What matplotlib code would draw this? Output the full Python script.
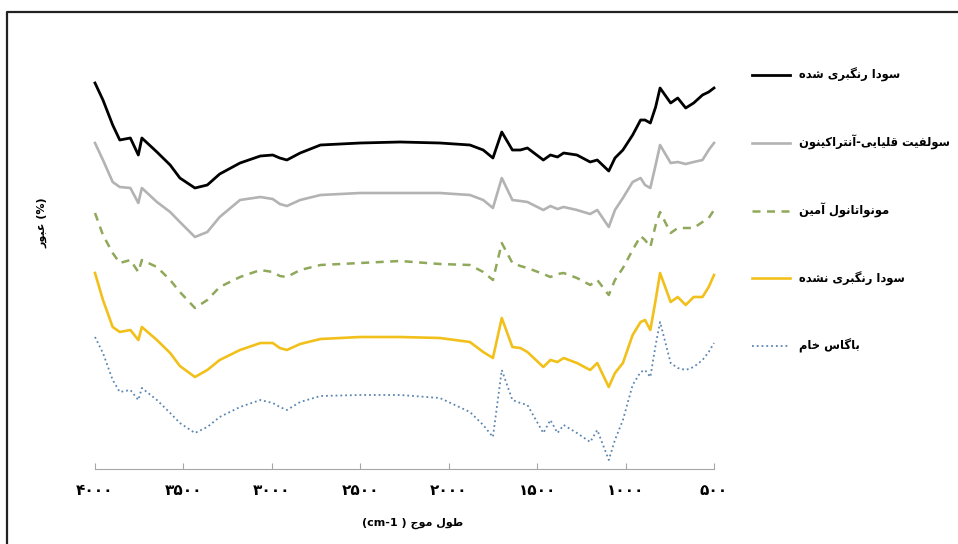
import numpy as np
import matplotlib
matplotlib.use('Agg')
import matplotlib.pyplot as plt
from matplotlib.lines import Line2D

# wavenumber (cm-1) and offset transmittance (a.u.)
wavenumber = [4000, 3955, 3900, 3860, 3800, 3755, 3735, 3650, 3575, 3520,
              3435, 3365, 3295, 3180, 3065, 2995, 2955, 2915, 2840, 2725,
              2500, 2275, 2050, 1880, 1805, 1750, 1700, 1640, 1595, 1555,
              1465, 1425, 1385, 1350, 1275, 1200, 1160, 1095, 1060, 1015,
              960, 915, 890, 860, 830, 805, 745, 705, 660, 615,
              565, 530, 500]

soda_bleached = [417, 400, 375, 360, 362, 345, 362, 348, 335, 322,
                 312, 315, 326, 337, 344, 345, 342, 340, 347, 355,
                 357, 358, 357, 355, 350, 342, 368, 350, 350, 352,
                 340, 345, 343, 347, 345, 338, 340, 329, 342, 350,
                 365, 380, 380, 377, 393, 412, 397, 402, 392, 397,
                 405, 408, 412]

sulfite_aq = [357, 340, 318, 313, 312, 297, 312, 298, 288, 278,
              263, 268, 283, 300, 303, 301, 296, 294, 300, 305,
              307, 307, 307, 305, 300, 292, 322, 300, 299, 298,
              290, 294, 291, 293, 290, 286, 290, 273, 290, 302,
              318, 322, 315, 312, 335, 355, 337, 338, 336, 338,
              340, 350, 357]

mea = [287, 265, 247, 237, 240, 228, 240, 233, 220, 208,
       192, 200, 213, 223, 230, 228, 224, 223, 230, 235,
       237, 239, 236, 235, 228, 220, 257, 237, 234, 232,
       226, 223, 226, 227, 222, 215, 220, 205, 220, 232,
       250, 264, 260, 253, 275, 288, 267, 272, 272, 272,
       278, 282, 290]

soda_unbleached = [227, 200, 173, 168, 170, 160, 173, 160, 147, 134,
                   123, 130, 140, 150, 157, 157, 152, 150, 156, 161,
                   163, 163, 162, 158, 148, 142, 182, 153, 152, 148,
                   133, 140, 138, 142, 137, 130, 137, 113, 127, 137,
                   165, 178, 180, 170, 200, 227, 198, 203, 195, 203,
                   203, 213, 225]

raw_bagasse = [163, 147, 120, 108, 110, 100, 112, 100, 87, 77,
               67, 73, 83, 93, 100, 97, 93, 90, 98, 104,
               105, 105, 102, 88, 75, 63, 130, 100, 97, 95,
               67, 80, 67, 75, 67, 58, 70, 40, 60, 80,
               115, 128, 130, 123, 155, 178, 137, 132, 130, 133,
               140, 148, 157]

labels = ['سودا رنگبری شده', 'سولفیت قلیایی-آنتراکینون', 'مونواتانول آمین',
          'سودا رنگبری نشده', 'باگاس خام']
x_ticks = [4000, 3500, 3000, 2500, 2000, 1500, 1000, 500]

# Arabic presentation forms: isolated, final, initial, medial
FORMS = {
    'ا': (0xFE8D, 0xFE8E), 'آ': (0xFE81, 0xFE82),
    'ب': (0xFE8F, 0xFE90, 0xFE91, 0xFE92), 'ت': (0xFE95, 0xFE96, 0xFE97, 0xFE98),
    'ج': (0xFE9D, 0xFE9E, 0xFE9F, 0xFEA0), 'خ': (0xFEA5, 0xFEA6, 0xFEA7, 0xFEA8),
    'د': (0xFEA9, 0xFEAA), 'ر': (0xFEAD, 0xFEAE),
    'س': (0xFEB1, 0xFEB2, 0xFEB3, 0xFEB4), 'ش': (0xFEB5, 0xFEB6, 0xFEB7, 0xFEB8),
    'ط': (0xFEC1, 0xFEC2, 0xFEC3, 0xFEC4), 'ع': (0xFEC9, 0xFECA, 0xFECB, 0xFECC),
    'ف': (0xFED1, 0xFED2, 0xFED3, 0xFED4), 'ق': (0xFED5, 0xFED6, 0xFED7, 0xFED8),
    'ل': (0xFEDD, 0xFEDE, 0xFEDF, 0xFEE0), 'م': (0xFEE1, 0xFEE2, 0xFEE3, 0xFEE4),
    'ن': (0xFEE5, 0xFEE6, 0xFEE7, 0xFEE8), 'ه': (0xFEE9, 0xFEEA, 0xFEEB, 0xFEEC),
    'و': (0xFEED, 0xFEEE),
    'ک': (0xFB8E, 0xFB8F, 0xFB90, 0xFB91), 'گ': (0xFB92, 0xFB93, 0xFB94, 0xFB95),
    'ی': (0xFBFC, 0xFBFD, 0xFBFE, 0xFBFF),
}


def shape(text):
	"""Join Persian letters and put them in visual (left to right) order."""
	out = []
	for i, ch in enumerate(text):
		if ch not in FORMS:
			out.append(ch)
			continue
		f = FORMS[ch]
		prev = text[i - 1] if i > 0 else ''
		nxt = text[i + 1] if i + 1 < len(text) else ''
		jp = prev in FORMS and len(FORMS[prev]) == 4
		jn = len(f) == 4 and nxt in FORMS
		if jp and jn:
			g = f[3]
		elif jp:
			g = f[1]
		elif jn:
			g = f[2]
		else:
			g = f[0]
		out.append(chr(g))
	return ''.join(out)[::-1]


def fa_digits(n):
	return ''.join(chr(0x06F0 + int(d)) for d in str(n))


def create_chart():
	plt.rcParams['font.family'] = ['DejaVu Sans']
	W, H = 958, 544
	fig = plt.figure(figsize=(W / 100, H / 100), dpi=100)
	ax = fig.add_axes([95 / W, 1 - 469 / H, (714 - 95) / W, (469 - 60) / H])

	series = [soda_bleached, sulfite_aq, mea, soda_unbleached, raw_bagasse]
	styles = [dict(color='black', lw=2.0),
	          dict(color='#b3b3b3', lw=1.9),
	          dict(color='#8fa85a', lw=1.8, dashes=(3.2, 2.6)),
	          dict(color='#f2c01a', lw=1.9),
	          dict(color='#5b86b0', lw=1.3, linestyle=':')]
	for y, st, lab in zip(series, styles, labels):
		ax.plot(wavenumber, y, label=shape(lab), clip_on=False, **st)

	ax.set_xlim(4000, 500)
	ax.set_ylim(31, 440)
	for s in ['top', 'right', 'left']:
		ax.spines[s].set_visible(False)
	ax.spines['bottom'].set_color('#a6a6a6')
	ax.set_yticks([])
	ax.set_xticks(x_ticks)
	ax.set_xticklabels([fa_digits(t) for t in x_ticks], fontsize=11, fontweight='bold')
	ax.tick_params(axis='x', direction='in', length=4, color='#a6a6a6', pad=10)

	fig.text(413 / W, 1 - 523 / H, '(cm-1 ) ' + shape('طول موج'),
	         ha='center', va='center', fontsize=8, fontweight='bold')
	fig.text(42 / W, 1 - 223 / H, shape('عبور') + ' (%)', rotation=90,
	         ha='center', va='center', fontsize=8, fontweight='bold')

	fig.legend(loc='upper left', bbox_to_anchor=(752 / W, 1 - 68 / H),
	           frameon=False, prop=dict(size=8.3, weight='bold'),
	           handlelength=3.3, handletextpad=0.8, labelspacing=4.6,
	           borderpad=0, borderaxespad=0)

	# picture border (top and left edges visible)
	fig.add_artist(Line2D([7 / W, 7 / W, 1], [0, 1 - 12 / H, 1 - 12 / H],
	                      transform=fig.transFigure, color='#222222', lw=1.6))

	fig.savefig('out.png', dpi=100)


if __name__ == '__main__':
	create_chart()
